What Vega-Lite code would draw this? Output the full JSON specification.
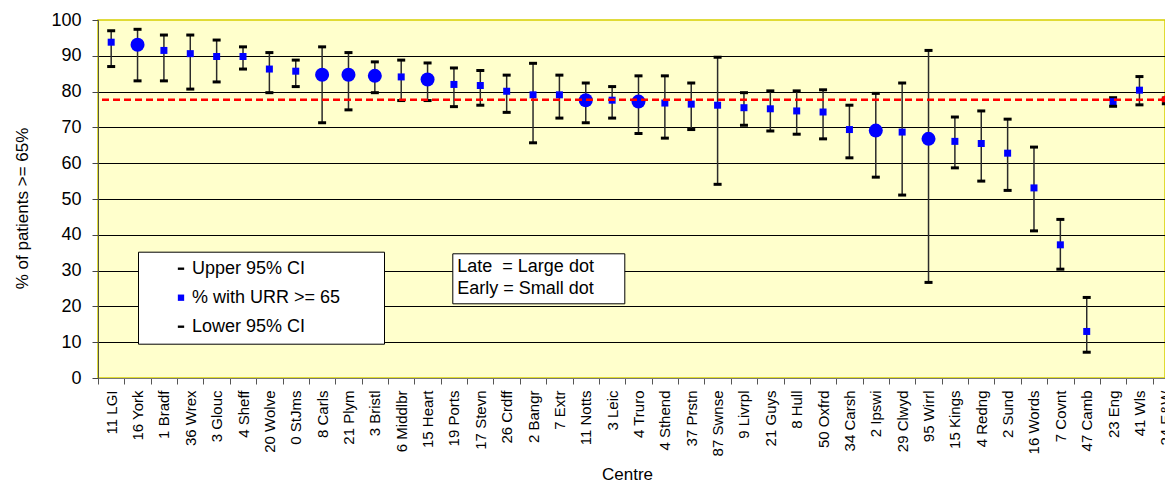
{
  "$schema": "https://vega.github.io/schema/vega-lite/v6.json",
  "width": 1067,
  "height": 358,
  "autosize": "none",
  "padding": {"left": 98, "top": 20, "right": 0, "bottom": 106},
  "background": "white",
  "config": {
    "font": "Liberation Sans",
    "view": {"fill": "#FFFFCC", "stroke": "#D6CF00", "strokeWidth": 1.5},
    "axisY": {
      "titleFontSize": 17,
      "titleFontWeight": "normal",
      "titleColor": "black",
      "titleX": -76,
      "titleY": 188,
      "titleAngle": -90,
      "titleAlign": "center",
      "titleBaseline": "middle",
      "labelFontSize": 18,
      "labelColor": "black",
      "labelPadding": 11,
      "tickSize": 6,
      "tickColor": "#444444",
      "domainColor": "#555544",
      "gridColor": "black"
    }
  },
  "data": {
    "values": [
      {"centre": "11 LGI", "mean": 93.8, "lower": 87.0, "upper": 97.0, "timing": "Early"},
      {"centre": "16 York", "mean": 93.1, "lower": 83.0, "upper": 97.4, "timing": "Late"},
      {"centre": "1 Bradf", "mean": 91.5, "lower": 83.0, "upper": 95.8, "timing": "Early"},
      {"centre": "36 Wrex", "mean": 90.6, "lower": 80.7, "upper": 95.8, "timing": "Early"},
      {"centre": "3 Glouc", "mean": 89.8, "lower": 82.7, "upper": 94.4, "timing": "Early"},
      {"centre": "4 Sheff", "mean": 89.8, "lower": 86.3, "upper": 92.5, "timing": "Early"},
      {"centre": "20 Wolve", "mean": 86.3, "lower": 79.7, "upper": 90.9, "timing": "Early"},
      {"centre": "0 StJms", "mean": 85.7, "lower": 81.4, "upper": 88.8, "timing": "Early"},
      {"centre": "8 Carls", "mean": 84.7, "lower": 71.3, "upper": 92.5, "timing": "Late"},
      {"centre": "21 Plym", "mean": 84.7, "lower": 74.9, "upper": 90.9, "timing": "Late"},
      {"centre": "3 Bristl", "mean": 84.4, "lower": 79.7, "upper": 88.3, "timing": "Late"},
      {"centre": "6 Middlbr", "mean": 84.1, "lower": 77.5, "upper": 88.8, "timing": "Early"},
      {"centre": "15 Heart", "mean": 83.4, "lower": 77.5, "upper": 88.0, "timing": "Late"},
      {"centre": "19 Ports", "mean": 82.0, "lower": 75.8, "upper": 86.6, "timing": "Early"},
      {"centre": "17 Stevn", "mean": 81.7, "lower": 76.2, "upper": 85.9, "timing": "Early"},
      {"centre": "26 Crdff", "mean": 80.1, "lower": 74.2, "upper": 84.6, "timing": "Early"},
      {"centre": "2 Bangr", "mean": 79.1, "lower": 65.7, "upper": 87.9, "timing": "Early"},
      {"centre": "7 Extr", "mean": 79.1, "lower": 72.6, "upper": 84.6, "timing": "Early"},
      {"centre": "11 Notts", "mean": 77.6, "lower": 71.3, "upper": 82.4, "timing": "Late"},
      {"centre": "3 Leic", "mean": 77.6, "lower": 72.6, "upper": 81.4, "timing": "Early"},
      {"centre": "4 Truro", "mean": 77.2, "lower": 68.3, "upper": 84.4, "timing": "Late"},
      {"centre": "4 Sthend", "mean": 76.8, "lower": 67.0, "upper": 84.4, "timing": "Early"},
      {"centre": "37 Prstn", "mean": 76.5, "lower": 69.4, "upper": 82.4, "timing": "Early"},
      {"centre": "87 Swnse", "mean": 76.2, "lower": 54.1, "upper": 89.6, "timing": "Early"},
      {"centre": "9 Livrpl", "mean": 75.5, "lower": 70.6, "upper": 79.7, "timing": "Early"},
      {"centre": "21 Guys", "mean": 75.2, "lower": 69.0, "upper": 80.2, "timing": "Early"},
      {"centre": "8 Hull", "mean": 74.6, "lower": 68.1, "upper": 80.2, "timing": "Early"},
      {"centre": "50 Oxfrd", "mean": 74.3, "lower": 66.8, "upper": 80.5, "timing": "Early"},
      {"centre": "34 Carsh", "mean": 69.4, "lower": 61.5, "upper": 76.2, "timing": "Early"},
      {"centre": "2 Ipswi", "mean": 69.1, "lower": 56.1, "upper": 79.5, "timing": "Late"},
      {"centre": "29 Clwyd", "mean": 68.7, "lower": 51.1, "upper": 82.4, "timing": "Early"},
      {"centre": "95 Wirrl", "mean": 66.8, "lower": 26.7, "upper": 91.5, "timing": "Late"},
      {"centre": "15 Kings", "mean": 66.1, "lower": 58.7, "upper": 72.9, "timing": "Early"},
      {"centre": "4 Redng", "mean": 65.5, "lower": 55.0, "upper": 74.6, "timing": "Early"},
      {"centre": "2 Sund", "mean": 62.8, "lower": 52.4, "upper": 72.3, "timing": "Early"},
      {"centre": "16 Words", "mean": 53.1, "lower": 41.1, "upper": 64.5, "timing": "Early"},
      {"centre": "7 Covnt", "mean": 37.2, "lower": 30.4, "upper": 44.3, "timing": "Early"},
      {"centre": "47 Camb", "mean": 13.0, "lower": 7.2, "upper": 22.5, "timing": "Early"},
      {"centre": "23 Eng", "mean": 77.2, "lower": 75.9, "upper": 78.3, "timing": "Early"},
      {"centre": "41 Wls", "mean": 80.4, "lower": 76.3, "upper": 84.2, "timing": "Early"},
      {"centre": "24 E&W", "mean": 77.7, "lower": 76.6, "upper": 78.2, "timing": "All"}
    ]
  },
  "layer": [
    {
      "mark": {"type": "rule", "color": "#2b2b2b", "strokeWidth": 1.5},
      "encoding": {
        "x": {
          "field": "centre",
          "type": "nominal",
          "sort": null,
          "scale": {"type": "band", "range": [0, 1081], "paddingInner": 0, "paddingOuter": 0},
          "axis": {
            "title": "Centre",
            "titleFontSize": 17,
            "titleFontWeight": "normal",
            "titleColor": "black",
            "titleX": 529,
            "titleY": 96,
            "titleBaseline": "middle",
            "labelAngle": -90,
            "labelFontSize": 15,
            "labelColor": "black",
            "labelPadding": 6,
            "labelOverlap": false,
            "labelLimit": 200,
            "tickBand": "extent",
            "tickSize": 6,
            "tickColor": "#555555",
            "domainColor": "#777777",
            "grid": false
          }
        },
        "y": {
          "field": "lower",
          "type": "quantitative",
          "scale": {"domain": [0, 100], "nice": false},
          "axis": {
            "title": "% of patients >= 65%",
            "values": [0, 10, 20, 30, 40, 50, 60, 70, 80, 90, 100],
            "grid": true,
            "gridOpacity": {"condition": {"test": "datum.value === 100 || datum.value === 0", "value": 0}, "value": 1}
          }
        },
        "y2": {"field": "upper"}
      }
    },
    {
      "transform": [{"fold": ["upper", "mean", "lower"], "as": ["key", "value"]}],
      "mark": {"type": "point", "filled": true, "opacity": 1, "strokeWidth": 0},
      "encoding": {
        "x": {"field": "centre", "type": "nominal", "sort": null},
        "y": {
          "field": "value",
          "type": "quantitative",
          "axis": {
            "title": "% of patients >= 65%",
            "values": [0, 10, 20, 30, 40, 50, 60, 70, 80, 90, 100],
            "grid": true,
            "gridOpacity": {"condition": {"test": "datum.value === 100 || datum.value === 0", "value": 0}, "value": 1}
          }
        },
        "shape": {
          "condition": [
            {"test": "datum.key === 'mean' && (datum.timing === 'Late' || datum.timing === 'All')", "value": "circle"}
          ],
          "field": "key",
          "type": "nominal",
          "scale": {
            "domain": ["upper", "mean", "lower"],
            "range": ["M-1,-0.375H1V0.375H-1Z", "square", "M-1,-0.375H1V0.375H-1Z"]
          },
          "legend": {
            "orient": "none",
            "legendX": 40,
            "legendY": 231.7,
            "title": null,
            "fillColor": "white",
            "strokeColor": "black",
            "padding": 8,
            "labelFontSize": 18,
            "labelColor": "black",
            "labelLimit": 400,
            "symbolSize": 40,
            "symbolOffset": 26,
            "labelOffset": 2,
            "rowPadding": 11,
            "symbolStrokeWidth": 0,
            "labelExpr": "datum.value === 'upper' ? 'Upper 95% CI' : datum.value === 'mean' ? '% with URR >= 65\u00a0\u00a0\u00a0\u00a0\u00a0\u00a0\u00a0\u200c' : 'Lower 95% CI'"
          }
        },
        "color": {
          "condition": {"test": "datum.key === 'mean' && datum.timing === 'All'", "value": "#FF0000"},
          "field": "key",
          "type": "nominal",
          "scale": {"domain": ["upper", "mean", "lower"], "range": ["black", "#0000FF", "black"]},
          "legend": {
            "orient": "none",
            "legendX": 40,
            "legendY": 231.7,
            "title": null,
            "fillColor": "white",
            "strokeColor": "black",
            "padding": 8,
            "labelFontSize": 18,
            "labelColor": "black",
            "labelLimit": 400,
            "symbolSize": 40,
            "symbolOffset": 26,
            "labelOffset": 2,
            "rowPadding": 11,
            "symbolStrokeWidth": 0,
            "labelExpr": "datum.value === 'upper' ? 'Upper 95% CI' : datum.value === 'mean' ? '% with URR >= 65\u00a0\u00a0\u00a0\u00a0\u00a0\u00a0\u00a0\u200c' : 'Lower 95% CI'"
          }
        },
        "size": {
          "condition": [
            {"test": "datum.key !== 'mean'", "value": 64},
            {"test": "datum.timing === 'All'", "value": 81}
          ],
          "field": "timing",
          "type": "ordinal",
          "scale": {"domain": ["Late", "Early"], "range": [196, 49]},
          "legend": {
            "orient": "none",
            "legendX": 354.3,
            "legendY": 233.3,
            "title": null,
            "fillColor": "white",
            "strokeColor": "black",
            "padding": 5,
            "labelFontSize": 18,
            "labelColor": "black",
            "labelLimit": 400,
            "symbolOpacity": 0,
            "symbolStrokeWidth": 0,
            "labelOffset": -18,
            "rowPadding": 4,
            "labelExpr": "datum.value === 'Late' ? 'Late\u00a0 = Large dot\u00a0\u00a0\u00a0\u00a0\u00a0\u200c' : 'Early = Small dot'"
          }
        }
      }
    },
    {
      "transform": [{"filter": "datum.centre === '24 E&W'"}],
      "mark": {"type": "rule", "color": "#FF0000", "strokeWidth": 2.5, "strokeDash": [7, 4]},
      "encoding": {
        "y": {
          "field": "mean",
          "type": "quantitative",
          "axis": {
            "title": "% of patients >= 65%",
            "values": [0, 10, 20, 30, 40, 50, 60, 70, 80, 90, 100],
            "grid": true,
            "gridOpacity": {"condition": {"test": "datum.value === 100 || datum.value === 0", "value": 0}, "value": 1}
          }
        }
      }
    }
  ]
}
